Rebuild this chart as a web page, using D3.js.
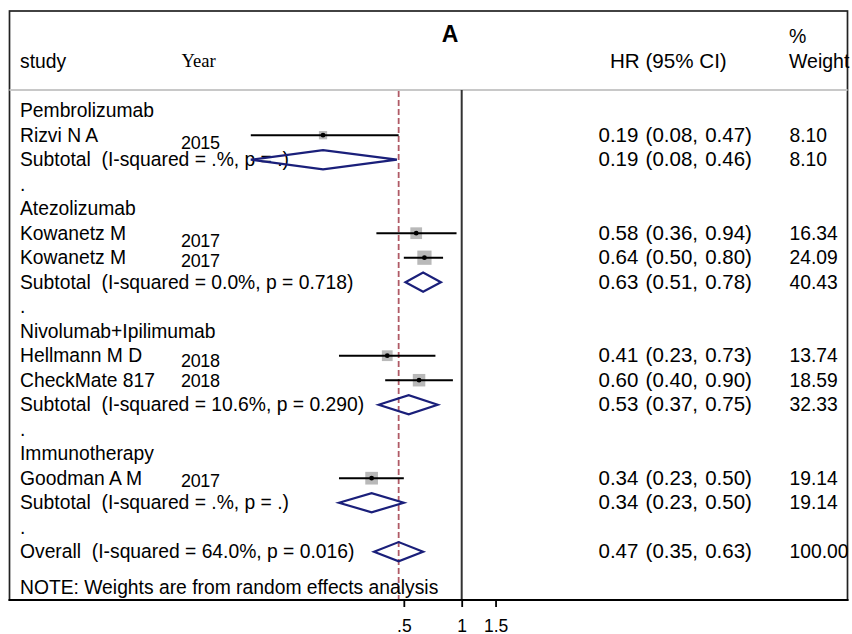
<!DOCTYPE html>
<html>
<head>
<meta charset="utf-8">
<script src="https://cdn.jsdelivr.net/npm/d3@7"></script>
<style>
  html, body { margin: 0; padding: 0; background: #fff; }
  svg text { font-family: "Liberation Sans", Arial, sans-serif; white-space: pre; }
</style>
</head>
<body>
<svg id="chart" width="852" height="634"></svg>
<script>
// ---------- data ----------
const labels = [
  "Pembrolizumab", "Rizvi N A", "Subtotal  (I-squared = .%, p = .)", ".",
  "Atezolizumab", "Kowanetz M", "Kowanetz M", "Subtotal  (I-squared = 0.0%, p = 0.718)", ".",
  "Nivolumab+Ipilimumab", "Hellmann M D", "CheckMate 817", "Subtotal  (I-squared = 10.6%, p = 0.290)", ".",
  "Immunotherapy", "Goodman A M", "Subtotal  (I-squared = .%, p = .)", ".",
  "Overall  (I-squared = 64.0%, p = 0.016)"
];
const kinds = [
  "group", "study", "pooled", "blank",
  "group", "study", "study", "pooled", "blank",
  "group", "study", "study", "pooled", "blank",
  "group", "study", "pooled", "blank",
  "pooled"
];
const years = [null, "2015", null, null, null, "2017", "2017", null, null, null, "2018", "2018", null, null, null, "2017", null, null, null];
const hr  = [null, 0.19, 0.19, null, null, 0.58, 0.64, 0.63, null, null, 0.41, 0.60, 0.53, null, null, 0.34, 0.34, null, 0.47];
const lo  = [null, 0.08, 0.08, null, null, 0.36, 0.50, 0.51, null, null, 0.23, 0.40, 0.37, null, null, 0.23, 0.23, null, 0.35];
const hi  = [null, 0.47, 0.46, null, null, 0.94, 0.80, 0.78, null, null, 0.73, 0.90, 0.75, null, null, 0.50, 0.50, null, 0.63];
const weights = [null, 8.10, 8.10, null, null, 16.34, 24.09, 40.43, null, null, 13.74, 18.59, 32.33, null, null, 19.14, 19.14, null, 100.00];
const overallHR = 0.47;
const tickValues = [0.5, 1, 1.5];
const tickLabels = [".5", "1", "1.5"];
const title = "A";

// ---------- layout ----------
const svg = d3.select("#chart");
const box = {x0: 9.5, y0: 11, x1: 847.5, y1: 600};
const headerY = 90;
const yearOffsets = [0, 6.7, 0, 0, 0, 7.4, 2.4, 0, 0, 0, 4.3, 0, 0, 0, 0, 2, 0, 0, 0];

const x = d3.scaleLog().domain([0.05, 2]).range([461.7 + 83.5 * Math.log(0.05), 461.7 + 83.5 * Math.log(2)]);
const y = d3.scalePoint().domain(d3.range(labels.length)).range([110.7, 551.7]);

const rows = labels.map((l, i) => ({
  i, label: l, kind: kinds[i], year: years[i], hr: hr[i], lo: lo[i], hi: hi[i], w: weights[i]
}));

// frame
svg.append("rect")
  .attr("x", box.x0).attr("y", box.y0)
  .attr("width", box.x1 - box.x0).attr("height", box.y1 - box.y0)
  .attr("fill", "none").attr("stroke", "#222").attr("stroke-width", 1.7);

// header separator
svg.append("line")
  .attr("x1", box.x0).attr("x2", box.x1).attr("y1", headerY).attr("y2", headerY)
  .attr("stroke", "#c8c8c8").attr("stroke-width", 2);

// null line at 1
svg.append("line")
  .attr("x1", x(1)).attr("x2", x(1)).attr("y1", headerY).attr("y2", box.y1)
  .attr("stroke", "#333").attr("stroke-width", 2);

// overall effect dashed line
svg.append("line")
  .attr("x1", x(overallHR)).attr("x2", x(overallHR)).attr("y1", headerY + 1).attr("y2", box.y1)
  .attr("stroke", "#b05a66").attr("stroke-width", 1.8).attr("stroke-dasharray", "6,3");

// headers
svg.append("text").attr("x", 450).attr("y", 41.5).attr("text-anchor", "middle")
  .attr("font-size", 23).attr("font-weight", "bold").text(title);
svg.append("text").attr("x", 20).attr("y", 68).attr("font-size", 19.3).text("study");
svg.append("text").attr("x", 181.5).attr("y", 67).attr("font-size", 18.6)
  .style("font-family", "'Liberation Serif', 'Times New Roman', serif").text("Year");
svg.append("text").attr("x", 610).attr("y", 68).attr("font-size", 20.6).text("HR (95% CI)");
svg.append("text").attr("x", 789).attr("y", 43).attr("font-size", 19.5).text("%");
svg.append("text").attr("x", 789).attr("y", 68).attr("font-size", 19.5).text("Weight");

// left labels
svg.append("g").selectAll("text").data(rows).join("text")
  .attr("x", 20).attr("y", d => y(d.i) + 6.7)
  .attr("font-size", 19.3)
  .text(d => d.label);

// years
svg.append("g").selectAll("text").data(rows.filter(d => d.year)).join("text")
  .attr("x", 181).attr("y", d => y(d.i) + 6.7 + yearOffsets[d.i])
  .attr("font-size", 18).attr("textLength", 39).text(d => d.year);

// HR text
const f2 = d3.format(".2f");
const est = rows.filter(d => d.hr != null);
svg.append("g").selectAll("text").data(est).join("text")
  .attr("x", 598.5).attr("y", d => y(d.i) + 6.7)
  .attr("font-size", 20.5).attr("word-spacing", 1.5)
  .text(d => `${f2(d.hr)} (${f2(d.lo)}, ${f2(d.hi)})`);

// weight text
svg.append("g").selectAll("text").data(est).join("text")
  .attr("x", 789.5).attr("y", d => y(d.i) + 6.7)
  .attr("font-size", 19.3)
  .text(d => f2(d.w));

// study markers
const studies = rows.filter(d => d.kind === "study");
const sq = d => 2.9 * Math.sqrt(d.w);
svg.append("g").selectAll("rect").data(studies).join("rect")
  .attr("x", d => x(d.hr) - sq(d) / 2).attr("y", d => y(d.i) - sq(d) / 2)
  .attr("width", sq).attr("height", sq)
  .attr("fill", "#b9b9b9");
svg.append("g").selectAll("line").data(studies).join("line")
  .attr("x1", d => x(d.lo)).attr("x2", d => x(d.hi))
  .attr("y1", d => y(d.i)).attr("y2", d => y(d.i))
  .attr("stroke", "#000").attr("stroke-width", 2);
svg.append("g").selectAll("circle").data(studies).join("circle")
  .attr("cx", d => x(d.hr)).attr("cy", d => y(d.i)).attr("r", 2.4)
  .attr("fill", "#000");

// pooled diamonds
const pooled = rows.filter(d => d.kind === "pooled");
const hh = 9.6;
svg.append("g").selectAll("path").data(pooled).join("path")
  .attr("d", d => {
    const cy = y(d.i);
    return `M${x(d.lo)},${cy} L${x(d.hr)},${cy - hh} L${x(d.hi)},${cy} L${x(d.hr)},${cy + hh} Z`;
  })
  .attr("fill", "none").attr("stroke", "#1a1f7a").attr("stroke-width", 2.2)
  .attr("stroke-linejoin", "miter");

// note
svg.append("text").attr("x", 20).attr("y", 594).attr("font-size", 19.3)
  .text("NOTE: Weights are from random effects analysis");

// axis
const axis = d3.axisBottom(x).tickValues(tickValues)
  .tickFormat((d, i) => tickLabels[i]).tickSize(7).tickSizeOuter(0);
const ag = svg.append("g").attr("transform", `translate(0,${box.y1})`).call(axis);
ag.select(".domain").remove();
ag.selectAll(".tick line").attr("stroke", "#000").attr("stroke-width", 1.8);
ag.selectAll(".tick text").attr("font-size", 17.5).attr("fill", "#000")
  .attr("font-family", "'Liberation Sans', Arial, sans-serif").attr("dy", 0).attr("y", 31.5);

// bottom axis line (over frame)
svg.append("line").attr("x1", box.x0 - 1).attr("x2", box.x1 + 1).attr("y1", box.y1).attr("y2", box.y1)
  .attr("stroke", "#000").attr("stroke-width", 2.2);
</script>
</body>
</html>
